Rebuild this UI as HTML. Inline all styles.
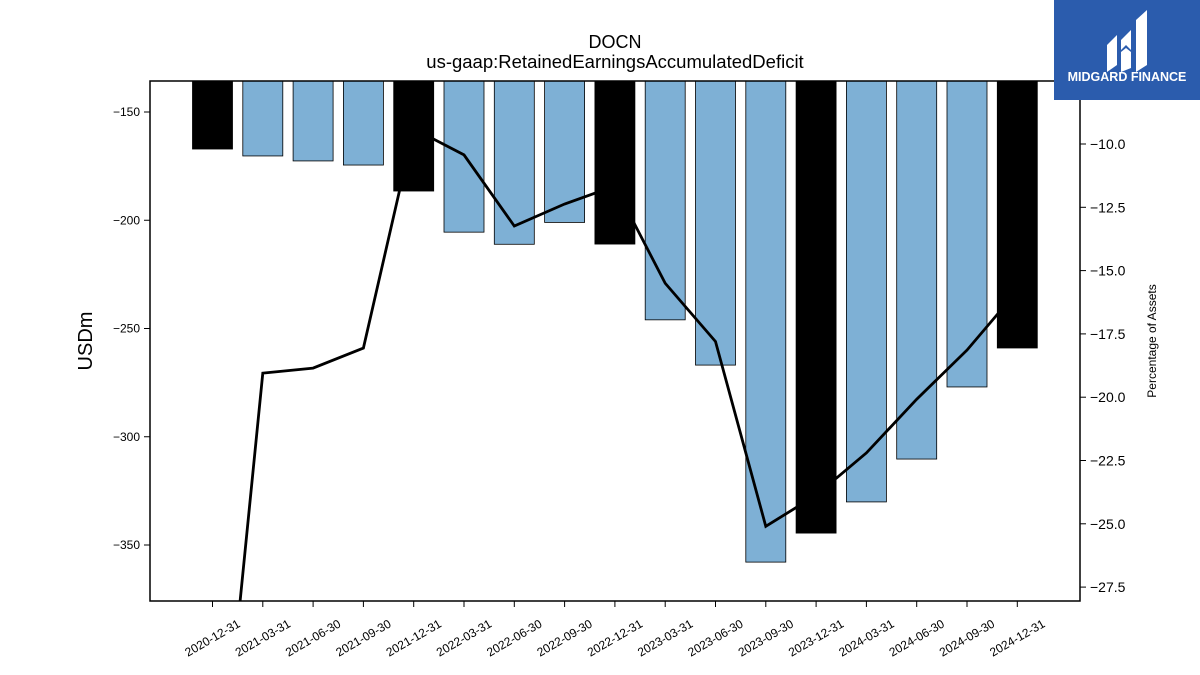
<!DOCTYPE html>
<html><head><meta charset="utf-8"><style>
html,body{margin:0;background:#fff;width:1200px;height:675px;overflow:hidden;font-family:"Liberation Sans",sans-serif}
svg{display:block}
</style></head><body>
<svg id="chart" width="1200" height="675" xmlns="http://www.w3.org/2000/svg" font-family="Liberation Sans, sans-serif">
<text x="615" y="48" text-anchor="middle" font-size="18">DOCN</text>
<text x="615" y="68" text-anchor="middle" font-size="18.5">us-gaap:RetainedEarningsAccumulatedDeficit</text>
<g id="bars"></g><g id="line"></g>
<rect x="150" y="81" width="930" height="520" fill="none" stroke="#000" stroke-width="1.5"/>
<g id="axes"></g>
<text transform="translate(92,341) rotate(-90)" text-anchor="middle" font-size="20">USDm</text>
<text transform="translate(1156,341) rotate(-90)" text-anchor="middle" font-size="12">Percentage of Assets</text>
<g>
<rect x="1054" y="0" width="146" height="100" fill="#2b5cad"/>
<path d="M1107 45 L1117 35 L1117 65 L1107 72 Z M1121 40 L1131 30 L1131 50 L1126 45 L1121 50 Z M1121 52 L1126 48 L1131 52 L1131 68 L1121 72 Z M1136 20 L1147 10 L1147 65 L1136 72 Z" fill="#fff"/>
<text x="1127" y="81" text-anchor="middle" font-size="12.5" font-weight="bold" fill="#fff">MIDGARD FINANCE</text>
</g>
</svg>
<script>
const categories=["2020-12-31","2021-03-31","2021-06-30","2021-09-30","2021-12-31","2022-03-31","2022-06-30","2022-09-30","2022-12-31","2023-03-31","2023-06-30","2023-09-30","2023-12-31","2024-03-31","2024-06-30","2024-09-30","2024-12-31"];
const values=[-167.1,-170.3,-172.6,-174.5,-186.5,-205.5,-211.1,-201,-211,-246,-266.9,-357.9,-344.5,-330.1,-310.3,-277,-259];
const pct=[-39,-19.05,-18.85,-18.06,-9.4,-10.43,-13.24,-12.37,-11.66,-15.5,-17.8,-25.1,-23.87,-22.2,-20.08,-18.14,-15.8];
const leftTicks=[-150,-200,-250,-300,-350];
const rightTicks=[-10,-12.5,-15,-17.5,-20,-22.5,-25,-27.5];
const NS="http://www.w3.org/2000/svg";
const yL=v=>112+(-150-v)*2.165;
const yR=v=>144+(-10-v)*25.32;
const xC=i=>212.5+i*50.3;
function mk(t,a,p){const e=document.createElementNS(NS,t);for(const k in a)e.setAttribute(k,a[k]);p.appendChild(e);return e;}
const bars=document.getElementById('bars'),line=document.getElementById('line'),axes=document.getElementById('axes');
const top0=81;
values.forEach((v,i)=>{const dec=categories[i].endsWith('12-31');
const r=mk('rect',{x:xC(i)-20,y:top0,width:40,height:yL(v)-top0,fill:dec?'#000':'#7eb0d5',stroke:'#000','stroke-width':0.8},bars);

});
const cp=mk('clipPath',{id:'cl'},line);mk('rect',{x:150,y:81,width:930,height:520},cp);
const pl=mk('polyline',{points:pct.map((v,i)=>xC(i)+','+yR(v)).join(' '),fill:'none',stroke:'#000','stroke-width':2.8,'clip-path':'url(#cl)'},line);


leftTicks.forEach(v=>{const y=yL(v);mk('line',{x1:144,x2:150,y1:y,y2:y,stroke:'#000'},axes);
const t=mk('text',{x:140,y:y+4,'text-anchor':'end','font-size':12},axes);t.textContent='\u2212'+Math.abs(v);

});
rightTicks.forEach(v=>{const y=yR(v);mk('line',{x1:1080,x2:1086,y1:y,y2:y,stroke:'#000'},axes);
const t=mk('text',{x:1090,y:y+5,'font-size':14},axes);t.textContent='\u2212'+Math.abs(v).toFixed(1);

});
categories.forEach((c,i)=>{const x=xC(i);mk('line',{x1:x,x2:x,y1:601,y2:607,stroke:'#000'},axes);
const t=mk('text',{x:x,y:642,'text-anchor':'middle','font-size':12,transform:`rotate(-30 ${x} 638)`},axes);t.textContent=c;

});
</script>
</body></html>
